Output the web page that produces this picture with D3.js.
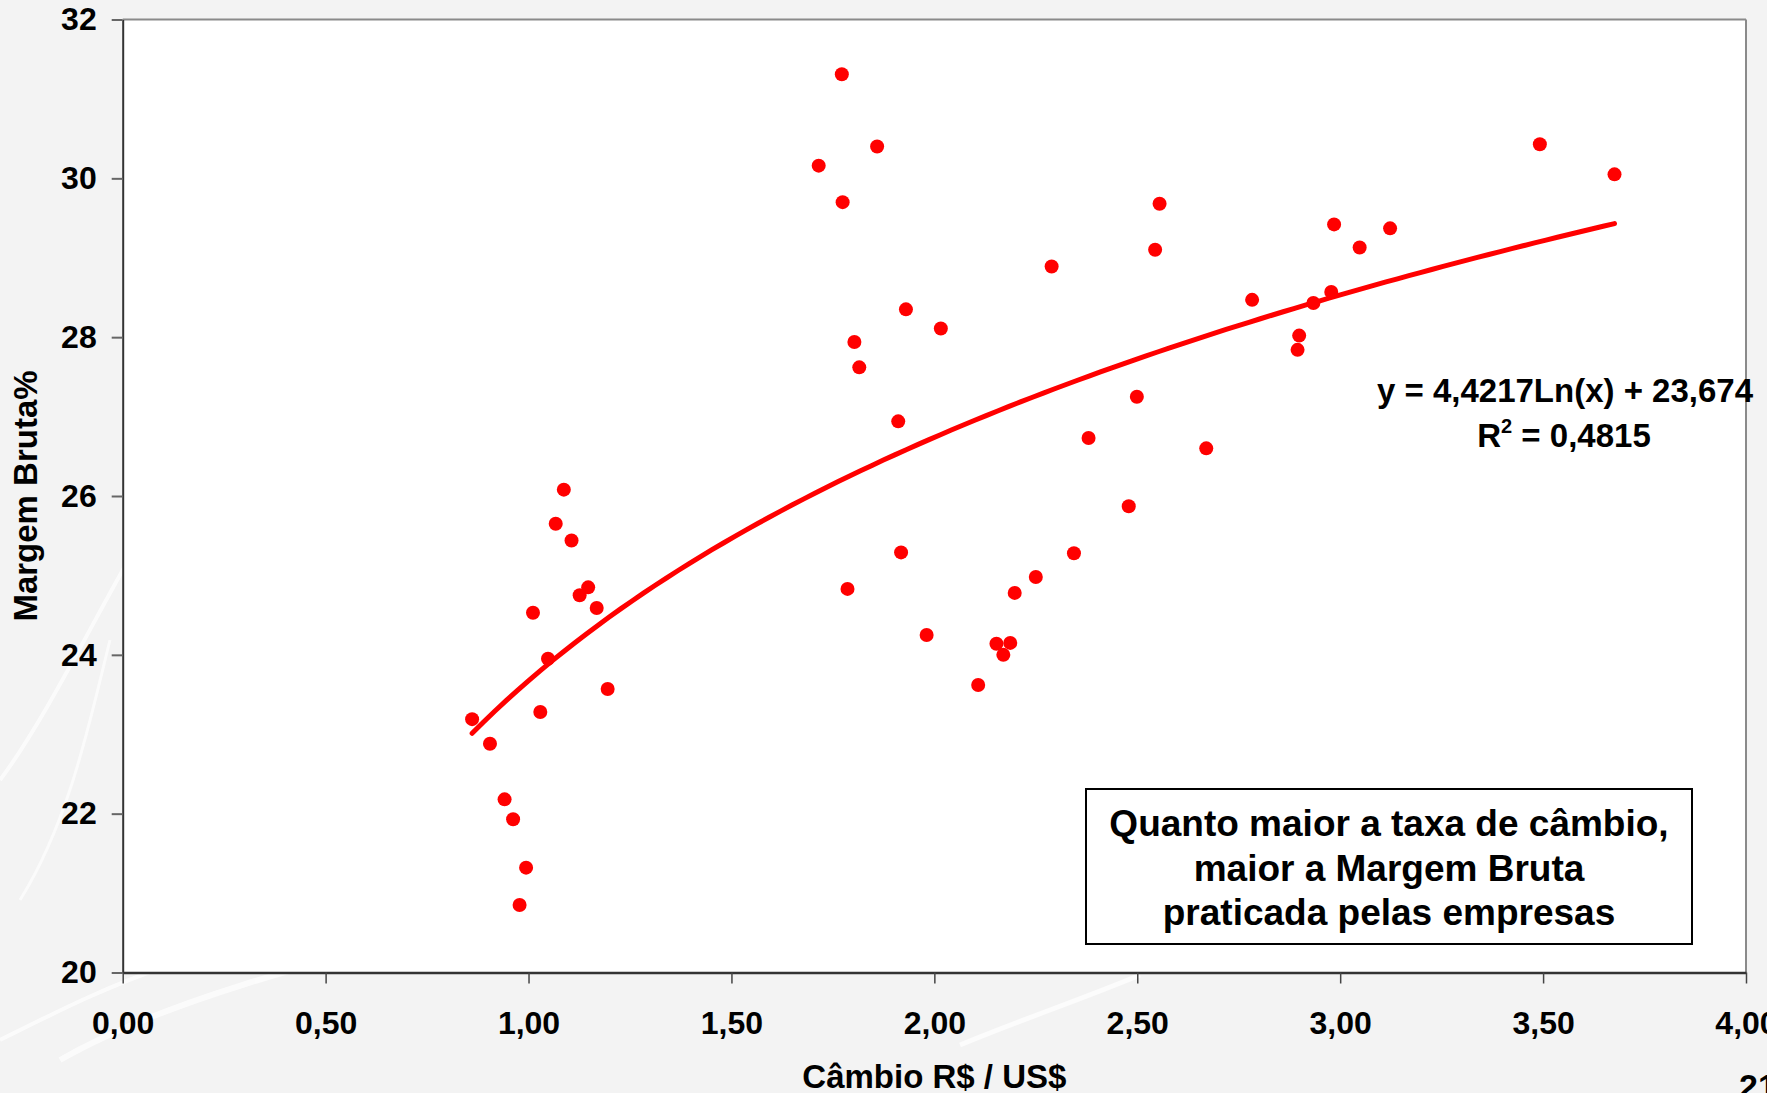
<!DOCTYPE html>
<html>
<head>
<meta charset="utf-8">
<script src="https://cdn.jsdelivr.net/npm/d3@7"></script>
<style>
  body { margin: 0; background: #f3f3f3; }
  svg { display: block; font-family: "Liberation Sans", Arial, sans-serif; font-weight: bold; }
</style>
</head>
<body>
<svg id="svg"></svg>
<script>
// cambio R$/US$ (x) vs margem bruta % (y)
var cambio = [0.861, 0.905, 0.941, 0.962, 0.978, 0.994, 1.011, 1.029, 1.048, 1.067,
  1.087, 1.106, 1.126, 1.147, 1.168, 1.195, 1.715, 1.772, 1.774, 1.786,
  1.803, 1.815, 1.859, 1.911, 1.918, 1.930, 1.981, 2.016, 2.108, 2.153,
  2.170, 2.187, 2.198, 2.250, 2.289, 2.344, 2.380, 2.479, 2.499, 2.544,
  2.555, 2.670, 2.783, 2.895, 2.899, 2.934, 2.978, 2.985, 3.048, 3.123,
  3.492, 3.676];
var margem = [23.19, 22.88, 22.18, 21.93, 20.85, 21.32, 24.53, 23.28, 23.95, 25.65,
  26.08, 25.44, 24.75, 24.85, 24.59, 23.57, 30.16, 31.31, 29.70, 24.83,
  27.94, 27.62, 30.40, 26.94, 25.29, 28.35, 24.25, 28.11, 23.62, 24.14,
  24.00, 24.15, 24.78, 24.98, 28.89, 25.28, 26.73, 25.87, 27.25, 29.10,
  29.68, 26.60, 28.47, 27.84, 28.02, 28.43, 28.57, 29.42, 29.13, 29.37,
  30.43, 30.05];

// linha de tendencia logaritmica: y = a*ln(x) + b
var trendCoef = [4.4217, 23.674];
var r2 = "0,4815";

var xTicks = [0, 0.5, 1, 1.5, 2, 2.5, 3, 3.5, 4];
var yTicks = [20, 22, 24, 26, 28, 30, 32];

var boxLines = ["Quanto maior a taxa de câmbio,", "maior a Margem Bruta", "praticada pelas empresas"];

const w = 1767;
const h = 1093;
const m = {left: 122.7, right: 1746, top: 19.5, bottom: 972.5};

const svg = d3.select("#svg").attr("width", w).attr("height", h);

// fundo com alguns tracos claros
svg.append("rect").attr("width", w).attr("height", h).attr("fill", "#f3f3f3");
const strokes = svg.append("g").attr("stroke", "#ffffff").attr("fill", "none").attr("opacity", 0.7);
strokes.append("path").attr("d", "M 60 1060 C 200 980, 420 940, 560 900").attr("stroke-width", 6);
strokes.append("path").attr("d", "M 0 780 C 60 700, 120 560, 190 460").attr("stroke-width", 4);
strokes.append("path").attr("d", "M 20 900 C 70 820, 90 720, 110 640").attr("stroke-width", 3);
strokes.append("path").attr("d", "M 960 1045 C 1020 1020, 1080 1000, 1140 975").attr("stroke-width", 5);
strokes.append("path").attr("d", "M 0 1040 C 60 1010, 110 985, 170 965").attr("stroke-width", 4);
strokes.append("path").attr("d", "M 150 330 C 190 270, 230 200, 270 150").attr("stroke-width", 3);

const locale = d3.formatLocale({decimal: ",", thousands: ".", grouping: [3], currency: ["R$", ""]});
const fmt2 = locale.format(".2f");

const x = d3.scaleLinear().domain([0, 4]).range([m.left, m.right]);
const y = d3.scaleLinear().domain([20, 32]).range([m.bottom, m.top]);

// area do grafico
svg.append("rect")
  .attr("x", m.left).attr("y", m.top)
  .attr("width", m.right - m.left).attr("height", m.bottom - m.top)
  .attr("fill", "#ffffff");
svg.append("line").attr("x1", m.left).attr("x2", m.right).attr("y1", m.top).attr("y2", m.top)
  .attr("stroke", "#8a8a8a").attr("stroke-width", 2);
svg.append("line").attr("x1", m.right).attr("x2", m.right).attr("y1", m.top).attr("y2", m.bottom)
  .attr("stroke", "#8a8a8a").attr("stroke-width", 2);

// eixo y
const yAxis = svg.append("g")
  .attr("transform", "translate(" + m.left + ",0)")
  .call(d3.axisLeft(y).tickValues(yTicks).tickSize(11).tickSizeOuter(0).tickPadding(15).tickFormat(d3.format("d")));
yAxis.select(".domain").attr("stroke", "#333").attr("stroke-width", 2);
yAxis.selectAll(".tick line").attr("stroke", "#666").attr("stroke-width", 2);
yAxis.selectAll(".tick text").attr("fill", "#000").style("font-size", "32px").style("font-weight", "bold")
  .style("font-family", "Liberation Sans, Arial, sans-serif");

// eixo x
const xAxis = svg.append("g")
  .attr("transform", "translate(0," + m.bottom + ")")
  .call(d3.axisBottom(x).tickValues(xTicks).tickSize(11).tickSizeOuter(0).tickFormat(fmt2));
xAxis.select(".domain").attr("stroke", "#333").attr("stroke-width", 2.5);
xAxis.selectAll(".tick line").attr("stroke", "#444").attr("stroke-width", 1.5);
xAxis.selectAll(".tick text").attr("fill", "#000").attr("y", 61).attr("dy", 0)
  .style("font-size", "32px").style("font-weight", "bold")
  .style("font-family", "Liberation Sans, Arial, sans-serif");

// titulos dos eixos
svg.append("text")
  .attr("x", (m.left + m.right) / 2).attr("y", 1088)
  .attr("text-anchor", "middle").style("font-size", "33px")
  .text("Câmbio R$ / US$");
svg.append("text")
  .attr("transform", "translate(37," + ((m.top + m.bottom) / 2) + ") rotate(-90)")
  .attr("text-anchor", "middle").style("font-size", "33px")
  .text("Margem Bruta%");

// pontos
const data = cambio.map(function (d, i) { return {x: d, y: margem[i]}; });
svg.append("g").selectAll("circle")
  .data(data)
  .enter()
  .append("circle")
  .attr("cx", d => x(d.x))
  .attr("cy", d => y(d.y))
  .attr("r", 7)
  .attr("fill", "#ff0000");

// tendencia
const xmin = d3.min(cambio), xmax = d3.max(cambio);
const trend = d3.range(0, 101).map(function (i) {
  const xv = xmin + (xmax - xmin) * i / 100;
  return [xv, trendCoef[0] * Math.log(xv) + trendCoef[1]];
});
svg.append("path")
  .datum(trend)
  .attr("d", d3.line().x(d => x(d[0])).y(d => y(d[1])))
  .attr("fill", "none")
  .attr("stroke", "#ff0000")
  .attr("stroke-width", 5)
  .attr("stroke-linecap", "round");

// equacao
const eq = svg.append("text").attr("text-anchor", "middle").style("font-size", "33px");
eq.append("tspan").attr("x", 1565).attr("y", 402)
  .text("y = " + locale.format(".4f")(trendCoef[0]) + "Ln(x) + " + locale.format(".3f")(trendCoef[1]));
const l2 = svg.append("text").attr("text-anchor", "middle").attr("x", 1564).attr("y", 447).style("font-size", "33px");
l2.append("tspan").text("R");
l2.append("tspan").attr("dy", -14).style("font-size", "20px").text("2");
l2.append("tspan").attr("dy", 14).text(" = " + r2);

// caixa de texto
svg.append("rect")
  .attr("x", 1086).attr("y", 789).attr("width", 606).attr("height", 155)
  .attr("fill", "#ffffff").attr("stroke", "#000").attr("stroke-width", 2);
svg.append("g").selectAll("text")
  .data(boxLines)
  .enter()
  .append("text")
  .attr("x", 1389)
  .attr("y", (d, i) => 836 + i * 44.5)
  .attr("text-anchor", "middle")
  .style("font-size", "37px")
  .text(d => d);

// numero da pagina (cortado na borda)
svg.append("text").attr("x", 1739).attr("y", 1098).style("font-size", "34px").text("21");
</script>
</body>
</html>
